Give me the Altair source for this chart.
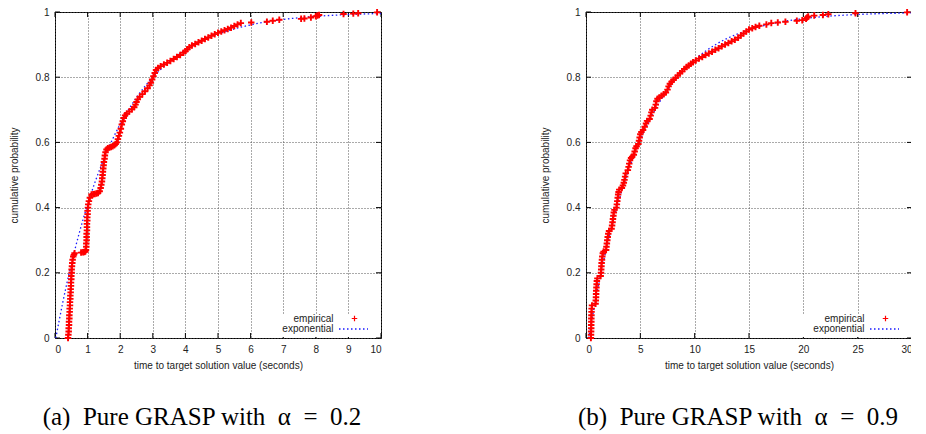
import altair as alt
import pandas as pd

# ---------------- data ----------------
# (a) Pure GRASP, alpha = 0.2 : empirical (time, cumulative probability)
a_empirical = [
    (0.40, 0.000), (0.41, 0.010), (0.42, 0.020), (0.42, 0.030), (0.43, 0.040), (0.43, 0.050),
    (0.44, 0.060), (0.44, 0.070), (0.45, 0.080), (0.45, 0.090), (0.46, 0.100), (0.46, 0.110),
    (0.47, 0.120), (0.47, 0.130), (0.48, 0.140), (0.48, 0.150), (0.49, 0.160), (0.49, 0.170),
    (0.50, 0.180), (0.50, 0.190), (0.51, 0.200), (0.51, 0.210), (0.52, 0.220), (0.53, 0.230),
    (0.54, 0.240), (0.56, 0.250), (0.58, 0.255), (0.60, 0.260),
    (0.80, 0.262), (0.86, 0.263), (0.90, 0.264), (0.93, 0.265),
    (0.95, 0.270), (0.96, 0.280), (0.96, 0.290), (0.97, 0.300), (0.97, 0.310), (0.97, 0.320),
    (0.98, 0.330), (0.98, 0.340), (0.98, 0.350), (0.99, 0.360), (0.99, 0.370), (1.00, 0.380),
    (1.00, 0.390), (1.01, 0.400), (1.02, 0.410), (1.04, 0.420), (1.07, 0.430),
    (1.12, 0.440), (1.17, 0.441), (1.22, 0.442), (1.27, 0.443), (1.32, 0.445), (1.37, 0.450),
    (1.40, 0.460), (1.42, 0.470), (1.44, 0.480), (1.45, 0.490), (1.46, 0.500), (1.47, 0.510),
    (1.48, 0.520), (1.49, 0.530), (1.50, 0.540), (1.52, 0.550), (1.53, 0.560), (1.55, 0.570),
    (1.58, 0.578),
    (1.62, 0.582), (1.67, 0.584), (1.72, 0.586), (1.77, 0.588), (1.82, 0.591), (1.86, 0.595),
    (1.90, 0.600), (1.93, 0.610), (1.96, 0.620), (1.99, 0.630), (2.02, 0.642), (2.05, 0.655),
    (2.08, 0.665), (2.11, 0.675), (2.15, 0.683),
    (2.20, 0.688), (2.28, 0.695), (2.36, 0.702), (2.43, 0.708),
    (2.47, 0.716), (2.50, 0.724), (2.54, 0.732),
    (2.60, 0.740), (2.68, 0.748), (2.76, 0.757), (2.84, 0.766), (2.90, 0.775),
    (2.94, 0.783), (2.98, 0.793), (3.02, 0.803), (3.06, 0.813), (3.10, 0.822),
    (3.16, 0.828), (3.24, 0.834),
    (3.34, 0.839), (3.44, 0.844), (3.54, 0.850), (3.64, 0.856), (3.74, 0.862), (3.84, 0.868),
    (3.94, 0.875),
    (4.00, 0.880), (4.06, 0.886), (4.12, 0.892),
    (4.20, 0.897), (4.30, 0.902), (4.40, 0.907), (4.50, 0.912), (4.60, 0.917), (4.70, 0.922),
    (4.80, 0.927), (4.90, 0.932),
    (5.00, 0.936), (5.10, 0.940), (5.20, 0.944), (5.30, 0.948), (5.40, 0.952), (5.50, 0.957),
    (5.60, 0.962), (5.70, 0.966),
    (6.02, 0.968), (6.50, 0.970), (6.68, 0.973), (6.88, 0.976), (7.55, 0.979), (7.65, 0.980),
    (7.85, 0.983), (8.00, 0.987), (8.05, 0.989), (8.10, 0.991), (8.85, 0.994), (9.15, 0.995),
    (9.30, 0.996), (9.88, 0.999),
]
# (a) fitted exponential curve
a_exponential = [
    (0.025, 0.0), (0.25, 0.1145), (0.5, 0.2264), (0.75, 0.3242), (1.0, 0.4096), (1.25, 0.4843),
    (1.5, 0.5495), (1.75, 0.6064), (2.0, 0.6562), (2.5, 0.7376), (3.0, 0.7997), (3.5, 0.8471),
    (4.0, 0.8834), (4.5, 0.9110), (5.0, 0.9321), (6.0, 0.9604), (7.0, 0.9770), (8.0, 0.9866),
    (9.0, 0.9922), (10.0, 0.9954),
]

# (b) Pure GRASP, alpha = 0.9 : empirical (time, cumulative probability)
b_empirical = [
    (0.45, 0.000), (0.46, 0.010), (0.47, 0.020), (0.48, 0.030), (0.48, 0.040), (0.49, 0.050),
    (0.49, 0.060), (0.50, 0.070), (0.51, 0.080), (0.52, 0.090), (0.55, 0.100),
    (0.88, 0.105), (0.90, 0.115), (0.92, 0.125), (0.93, 0.135), (0.94, 0.145), (0.96, 0.155),
    (0.98, 0.165), (1.00, 0.175), (1.05, 0.183),
    (1.35, 0.190), (1.38, 0.200), (1.40, 0.210), (1.42, 0.220), (1.44, 0.230), (1.47, 0.240),
    (1.50, 0.250), (1.55, 0.260), (1.62, 0.265),
    (1.85, 0.270), (1.88, 0.280), (1.92, 0.290), (1.96, 0.300), (2.00, 0.310), (2.05, 0.320),
    (2.12, 0.328),
    (2.35, 0.335), (2.40, 0.345), (2.44, 0.355), (2.48, 0.365), (2.52, 0.375), (2.56, 0.385),
    (2.62, 0.393),
    (2.80, 0.400), (2.84, 0.410), (2.88, 0.420), (2.92, 0.430), (2.96, 0.440), (3.00, 0.448),
    (3.06, 0.455),
    (3.30, 0.460), (3.40, 0.468), (3.48, 0.476), (3.54, 0.485), (3.60, 0.495), (3.66, 0.505),
    (3.85, 0.515), (3.92, 0.525), (3.98, 0.535), (4.05, 0.545), (4.15, 0.552), (4.25, 0.556),
    (4.40, 0.562), (4.48, 0.572), (4.56, 0.582), (4.65, 0.588),
    (4.82, 0.595), (4.88, 0.605), (4.94, 0.615), (5.00, 0.625), (5.10, 0.632),
    (5.25, 0.638), (5.40, 0.648), (5.52, 0.658), (5.62, 0.666),
    (5.85, 0.672), (5.95, 0.682), (6.02, 0.692), (6.10, 0.700),
    (6.35, 0.706), (6.42, 0.716), (6.48, 0.726), (6.58, 0.734),
    (6.75, 0.738), (6.95, 0.743), (7.15, 0.748), (7.35, 0.753),
    (7.50, 0.762), (7.60, 0.772), (7.72, 0.780), (7.88, 0.786),
    (8.05, 0.792), (8.25, 0.798), (8.45, 0.805), (8.65, 0.812), (8.85, 0.818), (9.05, 0.825),
    (9.25, 0.831), (9.45, 0.836), (9.65, 0.841), (9.85, 0.846),
    (10.1, 0.851), (10.4, 0.857), (10.7, 0.862), (11.0, 0.868), (11.3, 0.873), (11.6, 0.878),
    (11.9, 0.884),
    (12.2, 0.889), (12.5, 0.895), (12.8, 0.900), (13.1, 0.905), (13.4, 0.910), (13.7, 0.915),
    (14.0, 0.921),
    (14.25, 0.928), (14.5, 0.934), (14.75, 0.940), (15.0, 0.946), (15.3, 0.950), (15.6, 0.954),
    (15.95, 0.958),
    (16.6, 0.962), (17.05, 0.966), (17.65, 0.968), (18.35, 0.970), (19.4, 0.973), (19.9, 0.975),
    (20.25, 0.979), (20.35, 0.983), (20.45, 0.986), (21.0, 0.989), (21.8, 0.991), (22.3, 0.993),
    (24.8, 0.996), (29.55, 0.999),
]
# (b) fitted exponential curve
b_exponential = [
    (0.25, 0.0), (0.5, 0.0481), (1.0, 0.1375), (1.5, 0.2185), (2.0, 0.2919), (3.0, 0.4187),
    (4.0, 0.5227), (5.0, 0.6081), (6.0, 0.6783), (7.0, 0.7359), (8.0, 0.7832), (9.0, 0.8220),
    (10.0, 0.8539), (12.0, 0.9015), (14.0, 0.9336), (16.0, 0.9552), (18.0, 0.9698),
    (20.0, 0.9797), (22.0, 0.9863), (25.0, 0.9924), (30.0, 0.9972),
]

a_x_ticks = [0, 1, 2, 3, 4, 5, 6, 7, 8, 9, 10]
b_x_ticks = [0, 5, 10, 15, 20, 25, 30]
y_ticks = [0, 0.2, 0.4, 0.6, 0.8, 1]

x_title = "time to target solution value (seconds)"
y_title = "cumulative probability"
legend_labels = ["empirical", "exponential"]
a_caption = "(a)\u2002Pure GRASP with\u2002\u03b1\u2002=\u20020.2"
b_caption = "(b)\u2002Pure GRASP with\u2002\u03b1\u2002=\u20020.9"

# ---------------- styling ----------------
W, H = 326, 326
SANS = "Liberation Sans"
SERIF = "Liberation Serif"
PLUS = "M-1,0L1,0M0,-1L0,1"
RED = "#ff0000"
BLUE = "#1a1aff"
TICK = 5


def panel(emp, expo, xmax, xticks, caption, cap_dx):
    xs = alt.Scale(domain=[0, xmax], nice=False, zero=False)
    ys = alt.Scale(domain=[0, 1], nice=False)
    x_axis = alt.Axis(values=xticks, title=x_title, grid=True, ticks=False, domain=False,
                      labelPadding=6, titlePadding=6, format="~r")
    y_axis = alt.Axis(values=y_ticks, title=y_title, grid=True, ticks=False, domain=False,
                      labelPadding=6, titlePadding=16, format="~r")

    emp_df = pd.DataFrame(emp, columns=["t", "p"])
    exp_df = pd.DataFrame(expo, columns=["t", "p"])
    xt = pd.DataFrame({"v": xticks})
    yt = pd.DataFrame({"v": y_ticks})
    one = pd.DataFrame({"k": [0]})

    X = lambda f: alt.X(f"{f}:Q", scale=xs, axis=x_axis)
    Y = lambda f: alt.Y(f"{f}:Q", scale=ys, axis=y_axis)

    tick_bottom = alt.Chart(xt).mark_rule(color="black", strokeWidth=1).encode(
        x=X("v"), y=alt.value(H), y2=alt.value(H - TICK))
    tick_top = alt.Chart(xt).mark_rule(color="black", strokeWidth=1).encode(
        x=X("v"), y=alt.value(0), y2=alt.value(TICK))
    tick_left = alt.Chart(yt).mark_rule(color="black", strokeWidth=1).encode(
        y=Y("v"), x=alt.value(0), x2=alt.value(TICK))
    tick_right = alt.Chart(yt).mark_rule(color="black", strokeWidth=1).encode(
        y=Y("v"), x=alt.value(W), x2=alt.value(W - TICK))

    key_box = alt.Chart(one).mark_rect(color="white").encode(
        x=alt.value(216), x2=alt.value(W - 1), y=alt.value(302), y2=alt.value(H - 1))

    line = alt.Chart(exp_df).mark_line(color=BLUE, strokeWidth=1.3, strokeDash=[1.5, 2.5],
                                       interpolate="monotone").encode(x=X("t"), y=Y("p"))
    pts = alt.Chart(emp_df).mark_point(shape=PLUS, filled=False, color=RED, size=42,
                                       strokeWidth=1.9, opacity=1).encode(x=X("t"), y=Y("p"))

    key_t1 = alt.Chart(one).mark_text(align="right", baseline="middle", font=SANS, fontSize=10,
                                      color="#222").encode(
        x=alt.value(278.5), y=alt.value(306.5), text=alt.value(legend_labels[0]))
    key_t2 = alt.Chart(one).mark_text(align="right", baseline="middle", font=SANS, fontSize=10,
                                      color="#222").encode(
        x=alt.value(278.5), y=alt.value(317), text=alt.value(legend_labels[1]))
    key_p = alt.Chart(one).mark_point(shape=PLUS, filled=False, color=RED, size=30,
                                      strokeWidth=1.2, opacity=1).encode(
        x=alt.value(299.5), y=alt.value(306.5))
    key_l = alt.Chart(one).mark_rule(color=BLUE, strokeWidth=1.3, strokeDash=[1.5, 2.5]).encode(
        x=alt.value(284), x2=alt.value(313), y=alt.value(317))

    return alt.layer(
        tick_bottom, tick_top, tick_left, tick_right, key_box, line, pts,
        key_t1, key_t2, key_p, key_l,
    ).properties(
        width=W, height=H,
        title=alt.TitleParams(text=caption, orient="bottom", font=SERIF, fontSize=25,
                              fontWeight="normal", color="black", offset=35, anchor="middle",
                              dx=cap_dx),
    )


chart = alt.hconcat(
    panel(a_empirical, a_exponential, 10, a_x_ticks, a_caption, -16),
    panel(b_empirical, b_exponential, 30, b_x_ticks, b_caption, -11),
    spacing=154,
).properties(
    padding={"left": 0, "top": -4, "right": -5, "bottom": 0},
    background="white",
).configure_view(
    stroke="black", strokeWidth=1,
).configure_axis(
    labelFont=SANS, labelFontSize=10, labelColor="#222",
    titleFont=SANS, titleFontSize=10, titleFontWeight="normal", titleColor="#222",
    gridColor="#555", gridDash=[1, 2], gridWidth=1, gridOpacity=1,
)

chart.save("out.html", embed_options={"renderer": "svg", "actions": False})
